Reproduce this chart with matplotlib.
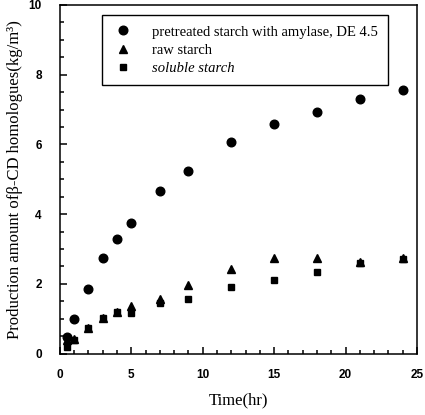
import matplotlib
matplotlib.use("Agg")
import matplotlib.pyplot as plt
from matplotlib.ticker import MultipleLocator

# reaction time (hr)
time_hr = [0.5, 1, 2, 3, 4, 5, 7, 9, 12, 15, 18, 21, 24]

# production of beta-CD homologues (kg/m3)
pretreated = [0.47, 0.98, 1.84, 2.74, 3.30, 3.76, 4.65, 5.24, 6.06, 6.59, 6.92, 7.31, 7.55]
raw = [0.40, 0.41, 0.72, 1.01, 1.18, 1.36, 1.56, 1.97, 2.42, 2.75, 2.74, 2.64, 2.74]
soluble = [0.20, 0.39, 0.72, 1.01, 1.18, 1.16, 1.44, 1.57, 1.90, 2.11, 2.35, 2.61, 2.71]

labels = ["pretreated starch with amylase, DE 4.5", "raw starch", "soluble starch"]

serif = "Liberation Serif"
sans = "Liberation Sans"

fig = plt.figure(figsize=(4.25, 4.15), dpi=100)
ax = fig.add_axes([0.141, 0.148, 0.840, 0.840])

ax.plot(time_hr, pretreated, "o", color="black", ms=6.2, label=labels[0])
ax.plot(time_hr, raw, "^", color="black", ms=5.6, label=labels[1])
ax.plot(time_hr, soluble, "s", color="black", ms=5.0, label=labels[2])

ax.set_xlim(0, 25)
ax.set_ylim(0, 10)
ax.xaxis.set_major_locator(MultipleLocator(5))
ax.xaxis.set_minor_locator(MultipleLocator(1))
ax.yaxis.set_major_locator(MultipleLocator(2))
ax.yaxis.set_minor_locator(MultipleLocator(0.5))
ax.tick_params(which="both", direction="in", top=False, right=False, width=1.1)
ax.tick_params(axis="x", which="major", length=5, pad=11)
ax.tick_params(axis="y", which="major", length=5, pad=13)
ax.tick_params(which="minor", length=3)
for lab in ax.get_xticklabels() + ax.get_yticklabels():
    lab.set_fontfamily(sans)
    lab.set_fontweight("bold")
    lab.set_fontsize(8.5)
for sp in ax.spines.values():
    sp.set_linewidth(1.1)

ax.set_xlabel("Time(hr)", fontfamily=serif, fontsize=12, labelpad=8)
ax.set_ylabel("Production amount of\u03b2-CD homologues(kg/m\u00b3)", fontfamily=serif,
              fontsize=12, labelpad=4)

leg = ax.legend(loc="upper left", bbox_to_anchor=(0.118, 0.971), frameon=True,
                fancybox=False, edgecolor="black", framealpha=1,
                prop={"family": serif, "size": 10.5}, handletextpad=1.2,
                borderpad=0.7, labelspacing=0.35, handlelength=1.5,
                borderaxespad=0)
leg.get_frame().set_linewidth(1.0)
leg.get_texts()[2].set_fontstyle("italic")

fig.savefig("out.png", dpi=100)
